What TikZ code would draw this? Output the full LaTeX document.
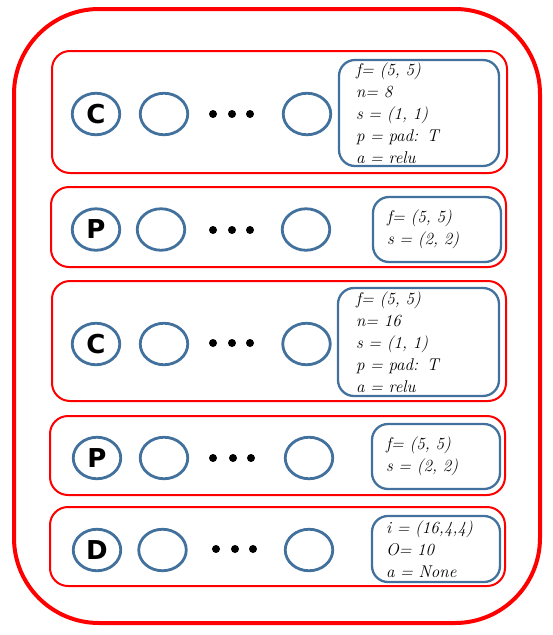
\documentclass[tikz,border=0pt]{standalone}
\usepackage{fontspec}
\usetikzlibrary{shapes.geometric}
\newfontfamily\letterfont{DejaVu Sans}
\definecolor{boxblue}{RGB}{65,113,156}
\definecolor{purered}{RGB}{255,0,0}
\begin{document}
\begin{tikzpicture}[x=1pt,y=-1pt,
  neuron/.style={draw=boxblue, line width=2.8pt, ellipse, minimum width=47.5pt, minimum height=41.5pt, inner sep=0pt},
  typelabel/.style={font=\letterfont\bfseries\fontsize{26}{26}\selectfont},
  rowbox/.style={draw=purered, line width=2pt, rounded corners=18pt},
  outerbox/.style={draw=purered, line width=4pt, rounded corners=85pt},
  parambox/.style={draw=boxblue, line width=2.3pt, rounded corners=16pt, align=left, inner ysep=0pt, font=\itshape\fontsize{17}{22}\selectfont},
  bigdot/.style={circle, fill=black, inner sep=0pt, minimum size=8pt}]
\useasboundingbox (0,0) rectangle (553,635);
% outer frame
\draw[outerbox] (14,9) rectangle (540,623);
% row frames
\draw[rowbox] (52,51) rectangle (507,173);
\draw[rowbox] (51,187) rectangle (506,267);
\draw[rowbox] (52,281) rectangle (506,401);
\draw[rowbox] (50,416) rectangle (505,495);
\draw[rowbox] (50,507) rectangle (505,586);
% row 1
\node[neuron, typelabel] (c1a) at (96,114) {C};
\node[neuron] (c1b) at (164,114) {};
\node[bigdot] (d1a) at (213,114) {};
\node[bigdot] (d1b) at (232,114) {};
\node[bigdot] (d1c) at (250,114) {};
\node[neuron] (c1c) at (307,114) {};
\node[parambox, text width=126pt, inner xsep=17pt, minimum height=106pt] (pb1) at (419,113)
  {f= (5, 5)\\ n= 8\\ s = (1, 1)\\ p = pad: T\\ a = relu};
% row 2
\node[neuron, typelabel] (c2a) at (96,229.5) {P};
\node[neuron] (c2b) at (161,229.5) {};
\node[bigdot] (d2a) at (213,230) {};
\node[bigdot] (d2b) at (232,230) {};
\node[bigdot] (d2c) at (250,230) {};
\node[neuron] (c2c) at (306,229.5) {};
\node[parambox, text width=100pt, inner xsep=14pt, minimum height=65pt] (pb2) at (437,229.5)
  {f= (5, 5)\\ s = (2, 2)};
% row 3
\node[neuron, typelabel] (c3a) at (96,344) {C};
\node[neuron] (c3b) at (164,344) {};
\node[bigdot] (d3a) at (213,343) {};
\node[bigdot] (d3b) at (232,343) {};
\node[bigdot] (d3c) at (250,343) {};
\node[neuron] (c3c) at (306.5,344) {};
\node[parambox, text width=125pt, inner xsep=18pt, minimum height=108pt] (pb3) at (418.5,342)
  {f= (5, 5)\\ n= 16\\ s = (1, 1)\\ p = pad: T\\ a = relu};
% row 4
\node[neuron, typelabel] (c4a) at (97,458) {P};
\node[neuron] (c4b) at (164,458) {};
\node[bigdot] (d4a) at (213,458) {};
\node[bigdot] (d4b) at (233,458) {};
\node[bigdot] (d4c) at (251,458) {};
\node[neuron] (c4c) at (309,458) {};
\node[parambox, text width=100pt, inner xsep=14pt, minimum height=65pt] (pb4) at (436,456.5)
  {f= (5, 5)\\ s = (2, 2)};
% row 5
\node[neuron, typelabel] (c5a) at (97,550) {D};
\node[neuron] (c5b) at (162.5,550) {};
\node[bigdot] (d5a) at (216,549) {};
\node[bigdot] (d5b) at (235,549) {};
\node[bigdot] (d5c) at (253,549) {};
\node[neuron] (c5c) at (309,550) {};
\node[parambox, text width=100pt, inner xsep=14pt, minimum height=66pt] (pb5) at (436,549)
  {i = (16,4,4)\\ O= 10\\ a = None};
\end{tikzpicture}
\end{document}
